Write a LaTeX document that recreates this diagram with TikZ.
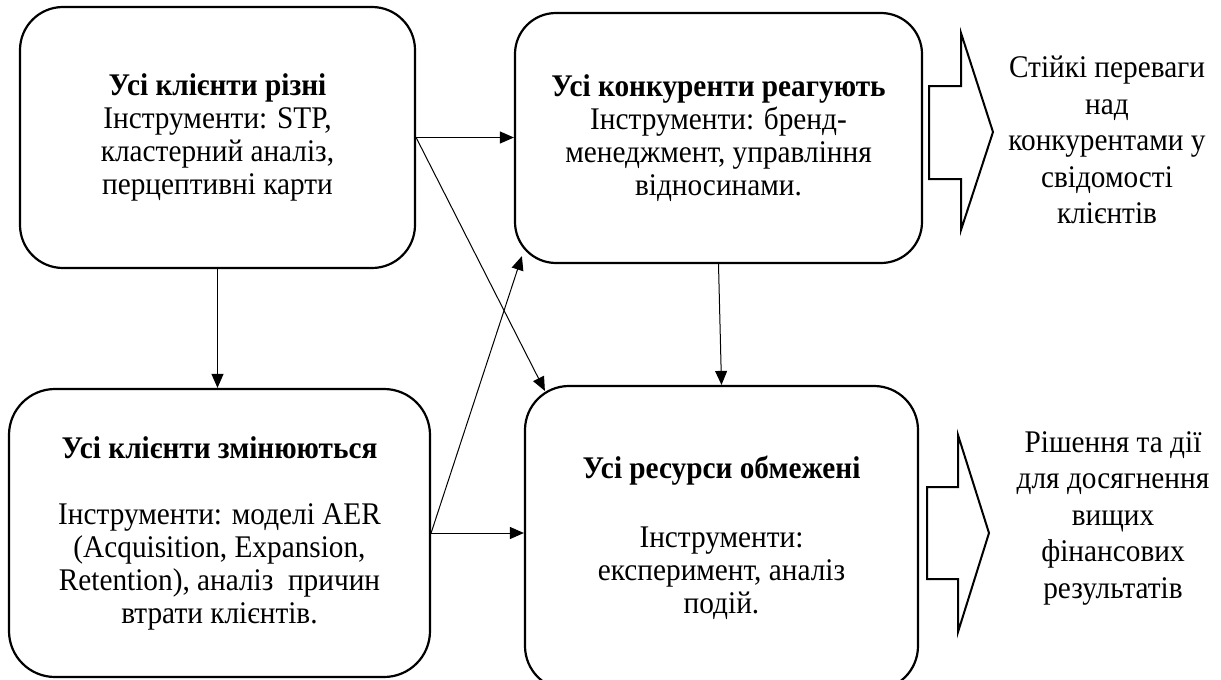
\documentclass[tikz,border=0pt]{standalone}
\usepackage{fontspec}
\setmainfont{Liberation Serif}[FakeStretch=0.93]
\usetikzlibrary{arrows.meta,calc}
\begin{document}
\begin{tikzpicture}[x=1pt,y=-1pt,
  box/.style={draw, line width=2.2pt, align=center, inner sep=0pt, font=\fontsize{31.5}{33}\selectfont},
  conn/.style={line width=1pt, -{Triangle[length=14pt,width=12pt]}},
  blk/.style={draw, line width=2pt, line join=miter},
  side/.style={align=center, inner sep=0pt, font=\fontsize{31.5}{36.5}\selectfont}]
\useasboundingbox (0,0) rectangle (1221,680);
\clip (0,0) rectangle (1221,680);

\node[box, minimum width=395pt, minimum height=261pt, rounded corners=43pt] (A) at (217.5,137.5)
  {\textbf{Усі клієнти різні}\\Інструменти: STP,\\кластерний аналіз,\\перцептивні карти};
\node[box, minimum width=407pt, minimum height=250pt, rounded corners=41pt] (B) at (718.5,138)
  {\textbf{Усі конкуренти реагують}\\Інструменти: бренд-\\менеджмент, управління\\відносинами.};
\node[box, minimum width=421pt, minimum height=288pt, rounded corners=46pt] (C) at (219.5,533)
  {\textbf{Усі клієнти змінюються}\\[33pt]Інструменти: моделі AER\\(Acquisition, Expansion,\\Retention), аналіз~ причин\\втрати клієнтів.};
\node[box, minimum width=393pt, minimum height=304pt, rounded corners=44pt] (D) at (721.5,538)
  {\textbf{Усі ресурси обмежені}\\[36pt]Інструменти:\\експеримент, аналіз\\подій.};

\node[side] (T1) at (1107,140) {Стійкі переваги\\над\\конкурентами у\\свідомості\\клієнтів};
\node[side] (T2) at (1113,518) {Рішення та дії\\для досягнення\\вищих\\фінансових\\результатів};

\draw[blk] (929,86) -- (961,86) -- (961,33) -- (993,132) -- (961,230) -- (961,179) -- (929,179) -- cycle;
\draw[blk] (927,487) -- (958,487) -- (958,435) -- (989,533) -- (958,632) -- (958,579) -- (927,579) -- cycle;

\draw[conn] (A.east) -- (A.east -| B.west);
\draw[conn] (A.east) -- ($(D.north west)+(21,6)$);
\draw[conn] (A.south) -- (A.south |- C.north);
\draw[conn] (C.east) -- (C.east -| D.west);
\draw[conn] (C.east) -- ($(B.south west)+(8,-8)$);
\draw[conn] (B.south) -- (D.north);
\end{tikzpicture}
\end{document}
